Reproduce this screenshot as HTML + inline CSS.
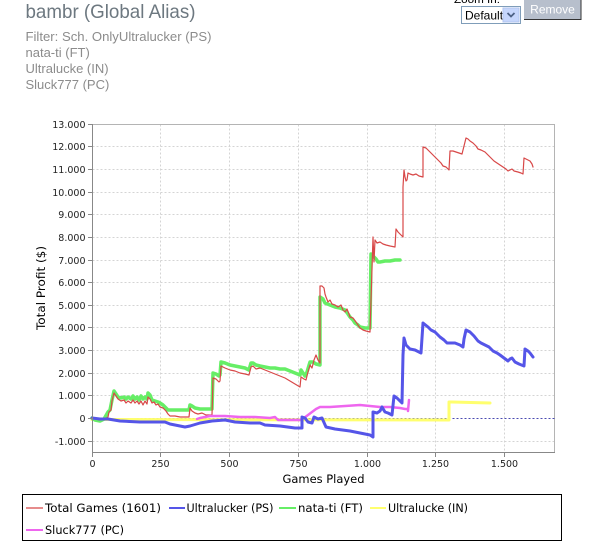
<!DOCTYPE html>
<html><head><meta charset="utf-8"><style>
html,body{margin:0;padding:0;background:#fff;}
svg{display:block;}
</style></head><body>
<svg width="604" height="548" viewBox="0 0 604 548" xmlns="http://www.w3.org/2000/svg">
<rect width="604" height="548" fill="#fff"/>
<!-- header -->
<text x="25.5" y="18" font-family="Liberation Sans, sans-serif" font-size="19.5" fill="#6d7880" textLength="170" lengthAdjust="spacingAndGlyphs">bambr (Global Alias)</text>
<g font-family="Liberation Sans, sans-serif" font-size="13" fill="#8c8c8c">
<text x="25.5" y="41" textLength="186" lengthAdjust="spacingAndGlyphs">Filter: Sch. OnlyUltralucker (PS)</text>
<text x="25.5" y="57">nata-ti (FT)</text>
<text x="25.5" y="73">Ultralucke (IN)</text>
<text x="25.5" y="89">Sluck777 (PC)</text>
</g>
<text x="454" y="3" font-family="Liberation Sans, sans-serif" font-size="11" fill="#000" textLength="46" lengthAdjust="spacingAndGlyphs">Zoom In:</text>
<rect x="461.5" y="6.5" width="59" height="17" fill="#fff" stroke="#7f9db9"/>
<text x="465" y="19.5" font-family="Liberation Sans, sans-serif" font-size="12" fill="#000">Default</text>
<rect x="503" y="8" width="16" height="14" fill="#c6d6fc" stroke="#b2c5ef"/>
<polyline points="507.5,13 511,16.5 514.5,13" fill="none" stroke="#4d6185" stroke-width="1.8"/>
<rect x="524" y="-2" width="57" height="21" fill="#b7bfcc"/>
<line x1="581" y1="-2" x2="581" y2="19.5" stroke="#333"/>
<line x1="524" y1="19.5" x2="581.5" y2="19.5" stroke="#333"/>
<text x="552.5" y="13.5" text-anchor="middle" font-family="Liberation Sans, sans-serif" font-size="12" fill="#fff">Remove</text>

<!-- grid -->
<g stroke="#d4d4d4" stroke-width="1" stroke-dasharray="2,2" fill="none">
<line x1="92.5" x2="554.5" y1="441.5" y2="441.5"/>
<line x1="92.5" x2="554.5" y1="395.5" y2="395.5"/>
<line x1="92.5" x2="554.5" y1="373.5" y2="373.5"/>
<line x1="92.5" x2="554.5" y1="350.5" y2="350.5"/>
<line x1="92.5" x2="554.5" y1="327.5" y2="327.5"/>
<line x1="92.5" x2="554.5" y1="305.5" y2="305.5"/>
<line x1="92.5" x2="554.5" y1="282.5" y2="282.5"/>
<line x1="92.5" x2="554.5" y1="260.5" y2="260.5"/>
<line x1="92.5" x2="554.5" y1="237.5" y2="237.5"/>
<line x1="92.5" x2="554.5" y1="214.5" y2="214.5"/>
<line x1="92.5" x2="554.5" y1="192.5" y2="192.5"/>
<line x1="92.5" x2="554.5" y1="169.5" y2="169.5"/>
<line x1="92.5" x2="554.5" y1="146.5" y2="146.5"/>
<line y1="124.5" y2="452.5" x1="160.5" x2="160.5"/>
<line y1="124.5" y2="452.5" x1="229.5" x2="229.5"/>
<line y1="124.5" y2="452.5" x1="298.5" x2="298.5"/>
<line y1="124.5" y2="452.5" x1="367.5" x2="367.5"/>
<line y1="124.5" y2="452.5" x1="435.5" x2="435.5"/>
<line y1="124.5" y2="452.5" x1="504.5" x2="504.5"/>
</g>
<!-- plot border -->
<polyline points="92.5,124.5 554.5,124.5 554.5,452.5" fill="none" stroke="#b4b4b4"/>
<!-- zero line -->
<line x1="92.5" x2="554.5" y1="418.5" y2="418.5" stroke="#4a4ab0" stroke-dasharray="2,2"/>

<!-- series -->
<g fill="none" stroke-linejoin="round" stroke-linecap="round">
<polyline stroke="#ffff6e" stroke-width="3" points="92,419.5 449,420 449,402 452,402 490,403"/>
<polyline stroke="#66ee66" stroke-width="3.5" points="92,418 95,420 100,421 104,419 108,412 110,410 112,400 114,391 116,394 118,397 121,398 124,397 126,399 128,397 131,399 133,396 135,399 137,397 139,400 141,396 143,399 145,397 147,399 148,393 150,395 152,400 155,401 158,402 160,403 163,405 166,408 168,410 175,410 180,410 189,410 190,405 192,406 195,408 200,409 205,409 212,409 213,373 216,374 219,376 220,375 221,362 225,363 230,365 235,366 240,367 245,368 249,370 251,363 253,363 256,365 260,366 265,367 270,368 275,368 280,369 285,369 290,371 295,373 300,375 301,370 305,376 307,372 310,362 313,362 316,364 320,365 320,297 323,299 325,303 330,305 335,307 340,308 345,310 348,314 350,317 353,320 355,323 358,325 360,327 365,328 370,328 371,254 374,257 376,259 378,262 380,262 385,261 390,261 395,260 400,260"/>
<polyline stroke="#d84848" stroke-width="1.2" points="92,418 96,419 100,420 105,419 108,417 109,412 111,410 112,401 114,393 116,396 118,399 121,401 124,400 126,403 128,401 131,403 133,400 135,403 137,401 139,404 141,401 143,405 145,401 147,404 148,397 150,399 152,403 154,402 156,405 158,404 160,407 163,408 166,411 168,414 170,416 175,416 180,417 189,417 190,408 192,411 195,413 198,414 202,413 206,415 212,415 213,378 216,379 219,382 220,381 221,366 225,368 230,370 235,371 240,373 245,374 249,375 251,367 253,366 256,369 260,368 265,370 270,372 275,374 280,376 285,378 290,381 295,384 300,387 301,377 304,379 306,380 308,372 310,365 312,368 314,360 316,355 318,360 320,363 320,286 322,286 324,288 325,294 326,297 328,302 330,300 332,304 335,305 338,307 341,305 343,310 345,312 347,309 349,314 350,317 353,318 356,322 358,325 360,328 363,330 366,331 370,332 371,300 373,237 374,262 375,240 377,243 380,242 383,244 386,245 390,246 395,247 396,229 398,232 400,234 403,237 403,187 404,170 405,177 406,181 407,180 408,173 410,174 413,175 416,174 419,176 423,177 423,147 426,148 430,152 433,155 436,158 439,161 441,163 443,166 446,167 449,170 450,151 453,151 456,152 459,153 462,154 463,150 466,138 468,139 470,141 473,143 476,146 478,149 481,150 485,152 488,155 491,158 494,161 497,163 500,165 503,167 506,169 508,171 510,170 512,169 514,171 518,172 521,173 523,174 524,158 526,159 528,160 530,161 532,164 533,167"/>
<polyline stroke="#ee66ee" stroke-width="2.5" points="197,419 200,418 205,417 210,416 225,416 240,417 255,417 270,418 275,417 278,420 300,420 304,418 308,415 312,412 316,409 320,407 330,407 345,406 360,405 370,406 380,407 390,407 400,408 405,409 408,409 408,411 409,400"/>
<polyline stroke="#5555e8" stroke-width="3" points="92,418 100,419 108,419 120,421 140,422 165,422 170,424 180,426 185,427 190,426 200,423 212,421 225,420 235,422 250,423 260,423 265,425 280,426 295,428 302,428 302,417 305,418 308,422 312,423 314,417 318,419 322,418 326,427 335,429 350,431 360,433 370,435 373,437 373,412 377,413 380,411 382,407 385,412 388,413 392,415 394,396 397,398 400,401 402,403 403,355 404,338 406,345 410,349 415,350 421,353 423,323 428,327 431,330 435,332 440,337 444,340 447,343 455,343 460,345 463,347 464,339 466,330 470,332 474,336 478,341 481,343 485,345 489,347 493,351 497,353 500,355 504,358 508,361 510,359 512,358 515,362 519,364 524,366 525,349 528,351 530,353 533,357"/>
</g>

<!-- axes -->
<line x1="92.5" y1="124" x2="92.5" y2="453" stroke="#888"/>
<line x1="92" y1="452.5" x2="555" y2="452.5" stroke="#888"/>
<g stroke="#888">
<line x1="88" x2="92" y1="124.5" y2="124.5"/><line x1="88" x2="92" y1="146.5" y2="146.5"/>
<line x1="88" x2="92" y1="169.5" y2="169.5"/><line x1="88" x2="92" y1="192.5" y2="192.5"/>
<line x1="88" x2="92" y1="214.5" y2="214.5"/><line x1="88" x2="92" y1="237.5" y2="237.5"/>
<line x1="88" x2="92" y1="260.5" y2="260.5"/><line x1="88" x2="92" y1="282.5" y2="282.5"/>
<line x1="88" x2="92" y1="305.5" y2="305.5"/><line x1="88" x2="92" y1="327.5" y2="327.5"/>
<line x1="88" x2="92" y1="350.5" y2="350.5"/><line x1="88" x2="92" y1="373.5" y2="373.5"/>
<line x1="88" x2="92" y1="395.5" y2="395.5"/><line x1="88" x2="92" y1="418.5" y2="418.5"/>
<line x1="88" x2="92" y1="441.5" y2="441.5"/>
<line y1="453" y2="457" x1="92.5" x2="92.5"/><line y1="453" y2="457" x1="160.5" x2="160.5"/>
<line y1="453" y2="457" x1="229.5" x2="229.5"/><line y1="453" y2="457" x1="298.5" x2="298.5"/>
<line y1="453" y2="457" x1="367.5" x2="367.5"/><line y1="453" y2="457" x1="435.5" x2="435.5"/>
<line y1="453" y2="457" x1="504.5" x2="504.5"/>
</g>
<g font-family="DejaVu Sans, sans-serif" font-size="9.5" fill="#222" text-anchor="end">
<text x="85.5" y="128">13.000</text><text x="85.5" y="150">12.000</text>
<text x="85.5" y="173">11.000</text><text x="85.5" y="196">10.000</text>
<text x="85.5" y="218">9.000</text><text x="85.5" y="241">8.000</text>
<text x="85.5" y="264">7.000</text><text x="85.5" y="286">6.000</text>
<text x="85.5" y="309">5.000</text><text x="85.5" y="331">4.000</text>
<text x="85.5" y="354">3.000</text><text x="85.5" y="377">2.000</text>
<text x="85.5" y="399">1.000</text><text x="85.5" y="422">0</text>
<text x="85.5" y="445">-1.000</text>
</g>
<g font-family="DejaVu Sans, sans-serif" font-size="9.5" fill="#222" text-anchor="middle">
<text x="92.5" y="467">0</text><text x="160.5" y="467">250</text>
<text x="229.5" y="467">500</text><text x="298.5" y="467">750</text>
<text x="367.5" y="467">1.000</text><text x="435.5" y="467">1.250</text>
<text x="504.5" y="467">1.500</text>
</g>
<text x="323.5" y="483" text-anchor="middle" font-family="DejaVu Sans, sans-serif" font-size="11.7" fill="#000" textLength="82" lengthAdjust="spacingAndGlyphs">Games Played</text>
<text transform="translate(45,288) rotate(-90)" text-anchor="middle" font-family="DejaVu Sans, sans-serif" font-size="11.7" fill="#000" textLength="84" lengthAdjust="spacingAndGlyphs">Total Profit ($)</text>

<!-- legend -->
<rect x="22.5" y="494.5" width="539" height="46" fill="#fff" stroke="#000"/>
<g stroke-width="2">
<line x1="26" x2="43" y1="508" y2="508" stroke="#d84848" stroke-width="1.2"/>
<line x1="169" x2="185" y1="508" y2="508" stroke="#5555e8"/>
<line x1="279" x2="296" y1="508" y2="508" stroke="#66ee66"/>
<line x1="370" x2="386" y1="508" y2="508" stroke="#ffff6e"/>
<line x1="26" x2="43" y1="530" y2="530" stroke="#ee66ee"/>
</g>
<g font-family="DejaVu Sans, sans-serif" font-size="11.7" fill="#000">
<text x="45" y="512" textLength="116" lengthAdjust="spacingAndGlyphs">Total Games (1601)</text>
<text x="186.5" y="512" textLength="87" lengthAdjust="spacingAndGlyphs">Ultralucker (PS)</text>
<text x="298" y="512" textLength="65" lengthAdjust="spacingAndGlyphs">nata-ti (FT)</text>
<text x="388" y="512" textLength="80" lengthAdjust="spacingAndGlyphs">Ultralucke (IN)</text>
<text x="45" y="534" textLength="79" lengthAdjust="spacingAndGlyphs">Sluck777 (PC)</text>
</g>
</svg>
</body></html>
